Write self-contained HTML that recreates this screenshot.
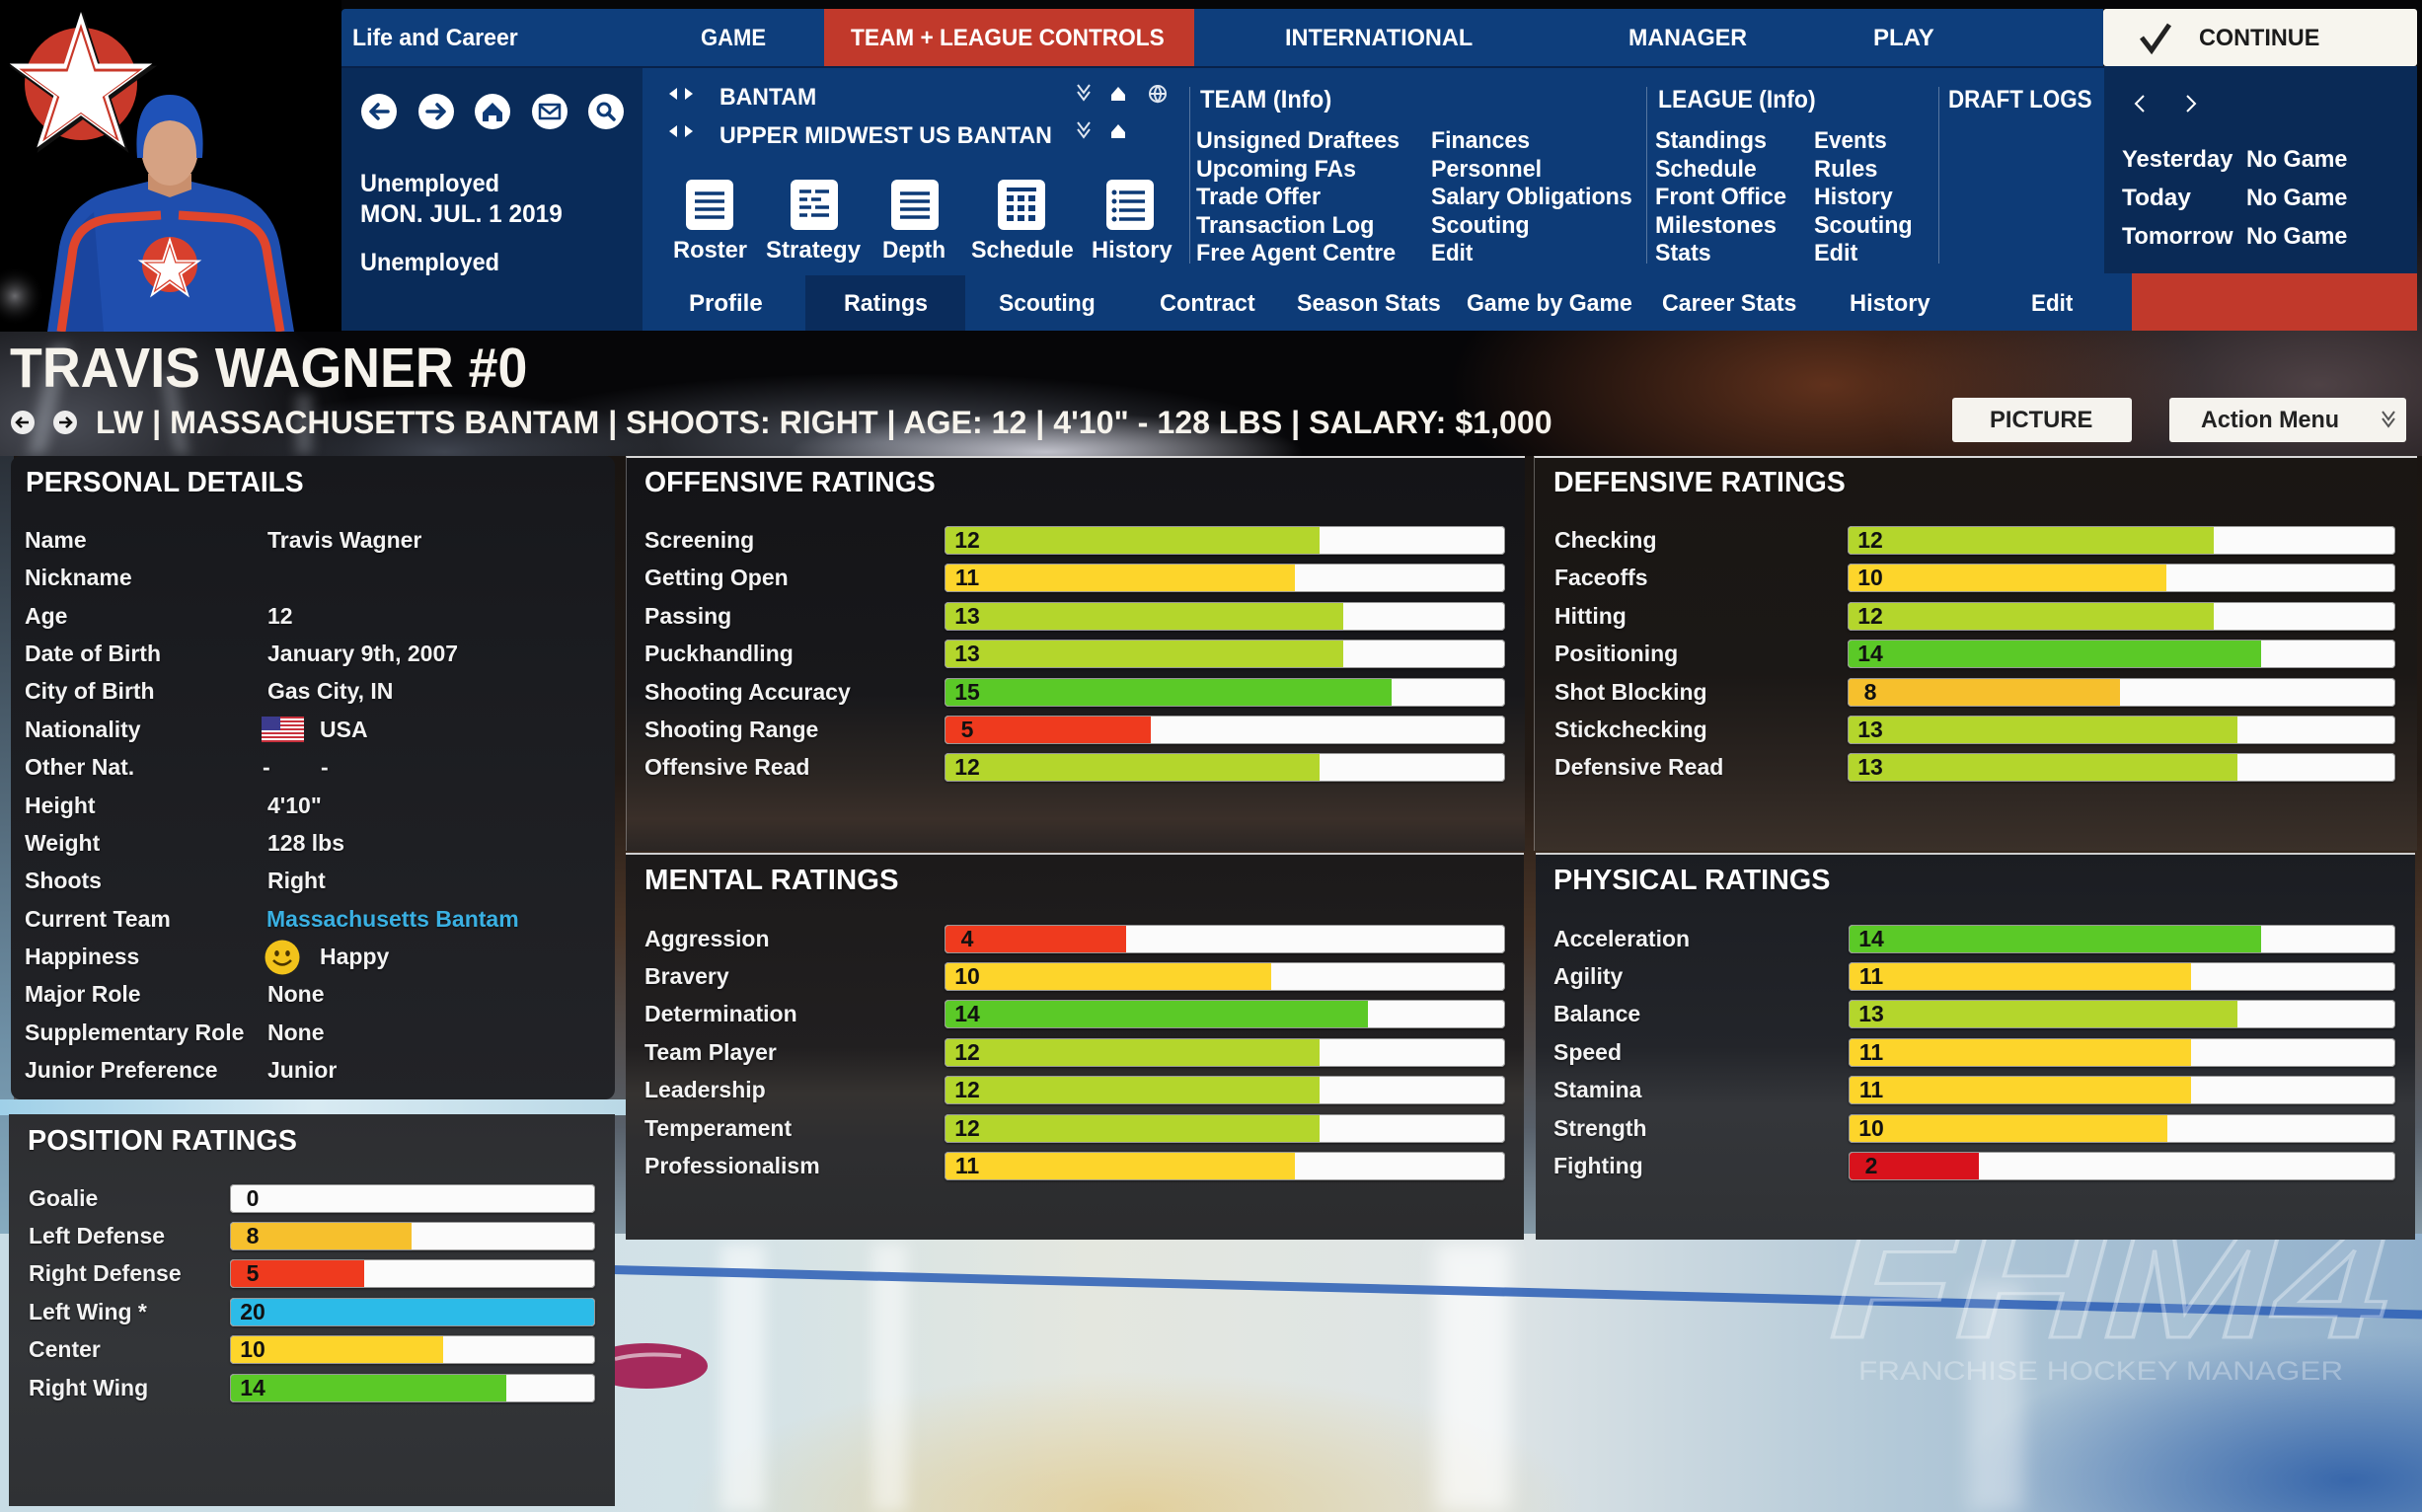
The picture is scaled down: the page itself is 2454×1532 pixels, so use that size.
<!DOCTYPE html>
<html><head><meta charset="utf-8"><style>
*{margin:0;padding:0;box-sizing:border-box}
body{width:2454px;height:1532px;overflow:hidden;background:#08080a}
#r{position:relative;width:2454px;height:1532px;overflow:hidden;background:#08080a}
.a{position:absolute}
.t{position:absolute;white-space:nowrap;line-height:1;font-family:"Liberation Sans",Arial,sans-serif;font-weight:bold;color:#fff;transform-origin:0 50%}
.c{transform:scaleX(.93)}
.l{font-size:23px;color:#f3f3f3;text-shadow:0 1px 2px rgba(0,0,0,.7)}
.h{font-size:29px;color:#fff;text-shadow:0 1px 2px rgba(0,0,0,.6)}
.n{font-size:24px}
.bar{position:absolute;height:29px;background:#fbfbfb;border-radius:4px;overflow:hidden;box-shadow:inset 0 0 0 1px rgba(140,140,140,.9),0 1px 2px rgba(0,0,0,.5)}
.bar i{position:absolute;left:1px;top:1px;bottom:1px;display:block;border-radius:3px 0 0 3px}
.bar b{position:absolute;left:0;top:0;width:46px;text-align:center;line-height:29px;font-size:23px;color:#111;font-family:"Liberation Sans",Arial,sans-serif}
.pn{position:absolute}
</style></head><body><div id="r">

<!-- header background -->
<div class="a" style="left:0;top:0;width:2454px;height:470px;background:
radial-gradient(ellipse 260px 40px at 1060px 458px,rgba(240,240,250,.75),rgba(240,240,250,0)),
radial-gradient(ellipse 420px 70px at 900px 448px,rgba(160,170,190,.45),rgba(160,170,190,0)),
radial-gradient(ellipse 380px 160px at 1850px 390px,rgba(170,85,45,.55),rgba(170,85,45,0)),
radial-gradient(ellipse 450px 200px at 2350px 390px,rgba(150,125,130,.5),rgba(150,125,130,0)),
radial-gradient(ellipse 300px 160px at 60px 430px,rgba(130,135,150,.55),rgba(130,135,150,0)),
radial-gradient(ellipse 220px 60px at 450px 458px,rgba(120,130,150,.5),rgba(0,0,0,0)),
#060608"></div>
<div class="a" style="left:40px;top:350px;width:18px;height:110px;background:rgba(200,205,215,.35);filter:blur(6px);transform:skewX(-12deg)"></div>
<div class="a" style="left:170px;top:380px;width:14px;height:80px;background:rgba(200,205,215,.3);filter:blur(6px);transform:skewX(10deg)"></div>
<div class="a" style="left:300px;top:400px;width:16px;height:60px;background:rgba(200,205,215,.3);filter:blur(6px)"></div>

<!-- arena background -->
<div class="a" style="left:0;top:462px;width:2454px;height:800px;background:linear-gradient(to bottom,#1a1512 0%,#221a15 40%,#4a3527 60%,#58606a 85%,#8aa0ae 100%)"></div>
<div class="a" style="left:0;top:462px;width:14px;height:1070px;background:linear-gradient(to bottom,#2a3038 0%,#6e8fa5 55%,#a9d3e6 100%)"></div>

<!-- ice -->
<div class="a" style="left:0;top:1250px;width:2454px;height:282px;background:
radial-gradient(ellipse 560px 210px at 2380px 250px,rgba(40,90,165,.85),rgba(40,90,165,0) 70%),
radial-gradient(ellipse 650px 200px at 1150px 280px,rgba(225,202,140,.8),rgba(225,202,140,0) 70%),
linear-gradient(to right,#c8dce5 0%,#d3e2e7 30%,#e4e7df 45%,#dde4e6 62%,#b3c9d8 78%,#90afcb 100%)"></div>
<div class="a" style="left:0;top:1114px;width:636px;height:16px;background:linear-gradient(to right,#9fd0e8,#d8eaf2 50%,#b9d8e6)"></div>
<div class="a" style="left:730px;top:1260px;width:45px;height:272px;background:rgba(255,255,255,.55);filter:blur(8px)"></div>
<div class="a" style="left:884px;top:1260px;width:35px;height:272px;background:rgba(255,255,255,.5);filter:blur(8px)"></div>
<div class="a" style="left:1455px;top:1260px;width:75px;height:272px;background:rgba(255,255,255,.65);filter:blur(10px)"></div>
<div class="a" style="left:1995px;top:1300px;width:55px;height:232px;background:rgba(255,255,255,.35);filter:blur(10px)"></div>
<svg class="a" style="left:0;top:0" width="2454" height="1532">
<line x1="600" y1="1286" x2="2454" y2="1332" stroke="#2b5eb6" stroke-width="9" opacity=".85"/>
<ellipse cx="655" cy="1384" rx="62" ry="23" fill="#a52a5c"/>
<path d="M623 1377 Q650 1370 690 1374" stroke="#e8d8e0" stroke-width="4" fill="none" opacity=".7"/>
</svg>
<div class="t" style="left:1853px;top:1228px;font-size:150px;font-style:italic;color:rgba(255,255,255,.1);-webkit-text-stroke:3px rgba(255,255,255,.35);--w:567px">FHM4</div>
<div class="t" style="left:1883px;top:1375.5px;font-size:27px;font-weight:normal;color:rgba(255,255,255,.3);--w:491px">FRANCHISE HOCKEY MANAGER</div>

<!-- portrait + logo -->
<svg class="a" style="left:0;top:0" width="346" height="336">
<defs><polygon id="st" points="0,-1 0.2245,-0.309 0.9511,-0.309 0.3633,0.118 0.5878,0.809 0,0.382 -0.5878,0.809 -0.3633,0.118 -0.9511,-0.309 -0.2245,-0.309"/>
<radialGradient id="sp" cx="0.5" cy="0.5" r="0.5"><stop offset="0" stop-color="#9a9aa0" stop-opacity=".7"/><stop offset="1" stop-color="#000" stop-opacity="0"/></radialGradient></defs>
<rect x="0" y="0" width="346" height="336" fill="#000"/>
<circle cx="15" cy="300" r="30" fill="url(#sp)"/>
<path d="M48 336 L60 250 Q68 206 112 193 L150 184 L172 200 L194 184 L232 193 Q276 206 284 250 L298 336 Z" fill="#1f4eae"/>
<path d="M60 336 L70 260 Q75 230 95 215 L105 336 Z" fill="#173f95" opacity=".6"/>
<path d="M62 336 L74 252 Q80 224 116 221 L163 218" stroke="#e0452c" stroke-width="9" fill="none"/>
<path d="M181 218 L228 221 Q264 224 270 252 L284 336" stroke="#e0452c" stroke-width="9" fill="none"/>
<path d="M150 176 L194 176 L194 192 L172 200 L150 192 Z" fill="#c98f6d"/>
<ellipse cx="172" cy="150" rx="29" ry="38" fill="#d6a283"/>
<path d="M139 160 Q134 96 172 96 Q210 96 205 160 L199 160 Q200 124 172 122 Q144 124 145 160 Z" fill="#1f52b8"/>
<circle cx="172" cy="268" r="28" fill="#d8402d"/>
<use href="#st" transform="translate(172 274) scale(34)" fill="#fff"/>
<use href="#st" transform="translate(172 274) scale(28)" fill="#d8402d"/>
<use href="#st" transform="translate(172 274) scale(24)" fill="#fff"/>
<circle cx="82" cy="85" r="57" fill="#c9392a"/>
<use href="#st" transform="translate(84 91) scale(79)" fill="#111"/>
<use href="#st" transform="translate(82 88) scale(76)" fill="#fff"/>
<use href="#st" transform="translate(82 90) scale(66)" fill="#c9392a"/>
<use href="#st" transform="translate(82 91) scale(60)" fill="#fff"/>
</svg>

<!-- NAV blocks -->
<div class="a" style="left:346px;top:9px;width:1785px;height:58px;background:#0e3e7c;border-radius:4px 0 0 0"></div>
<div class="a" style="left:835px;top:9px;width:375px;height:58px;background:#c1392b"></div>
<div class="a" style="left:2131px;top:9px;width:318px;height:58px;background:#f7f5ee;border-radius:3px"></div>
<div class="a" style="left:346px;top:67px;width:1814px;height:268px;background:#0d3b77;border-top:2px solid #08224a"></div>
<div class="a" style="left:346px;top:67px;width:305px;height:268px;background:#092b59;border-top:2px solid #08224a"></div>
<div class="a" style="left:816px;top:279px;width:162px;height:56px;background:#0a2c5c"></div>
<div class="a" style="left:2132px;top:67px;width:317px;height:210px;background:#0a2a56"></div>
<div class="a" style="left:2160px;top:277px;width:289px;height:58px;background:#c1392b"></div>
<div class="a" style="left:1205px;top:88px;width:1px;height:179px;background:rgba(255,255,255,.3)"></div>
<div class="a" style="left:1668px;top:88px;width:1px;height:179px;background:rgba(255,255,255,.3)"></div>
<div class="a" style="left:1964px;top:88px;width:1px;height:179px;background:rgba(255,255,255,.3)"></div>

<svg class="a" style="left:0;top:0" width="2454" height="470">
<g fill="#fff"><circle cx="384" cy="113" r="18"/><circle cx="442" cy="113" r="18"/><circle cx="499" cy="113" r="18"/><circle cx="557" cy="113" r="18"/><circle cx="614" cy="113" r="18"/></g>
<g stroke="#0d3a76" stroke-width="3.5" fill="none" stroke-linecap="round" stroke-linejoin="round">
<path d="M393 113 H376 M383 106 L376 113 L383 120"/>
<path d="M433 113 H450 M443 106 L450 113 L443 120"/>
<rect x="547" y="106" width="20" height="14" stroke-width="2.5"/><path d="M547 107 L557 115 L567 107" stroke-width="2.5"/>
<circle cx="612" cy="111" r="6" stroke-width="3"/><path d="M616 115 L622 121"/>
</g>
<path d="M489 114 L499 104 L509 114 V123 H503 V117 H495 V123 H489 Z" fill="#0d3a76"/>
<g fill="#fff"><path d="M686 89 L678 95 L686 101 Z"/><path d="M694 89 L702 95 L694 101 Z"/><path d="M686 127 L678 133 L686 139 Z"/><path d="M694 127 L702 133 L694 139 Z"/></g>
<g stroke="#dfe6f0" stroke-width="2" fill="none">
<path d="M1092 86 L1098 94 L1104 86 M1092 93 L1098 101 L1104 93"/>
<path d="M1092 124 L1098 132 L1104 124 M1092 131 L1098 139 L1104 131"/>
<circle cx="1173" cy="95" r="8"/><path d="M1165 95 H1181 M1173 87 Q1167 95 1173 103 Q1179 95 1173 87"/>
</g>
<g fill="#fff"><path d="M1126 96 L1133 88 L1140 96 V102 H1126 Z"/><path d="M1126 134 L1133 126 L1140 134 V140 H1126 Z"/></g>
<g fill="#fff"><rect x="695" y="182" width="48" height="51" rx="6"/><rect x="801" y="182" width="48" height="51" rx="6"/><rect x="903" y="182" width="48" height="51" rx="6"/><rect x="1011" y="182" width="48" height="51" rx="6"/><rect x="1121" y="182" width="48" height="51" rx="6"/></g>
<g stroke="#0d3a76" stroke-width="3.5">
<path d="M704 196 H734 M704 204 H734 M704 212 H734 M704 220 H734"/>
<path d="M810 194 H822 M826 194 H840 M810 202 H818 M822 202 H832 M810 210 H822 M826 210 H840 M810 218 H818 M822 218 H840"/>
<path d="M912 196 H942 M912 204 H942 M912 212 H942 M912 220 H942"/>
<path d="M1020 192 H1050" stroke-width="4"/>
<path d="M1134 195 H1160 M1134 204 H1160 M1134 213 H1160 M1134 222 H1160"/>
</g>
<g fill="#0d3a76"><rect x="1020" y="198" width="7" height="6"/><rect x="1031" y="198" width="7" height="6"/><rect x="1042" y="198" width="7" height="6"/><rect x="1020" y="208" width="7" height="6"/><rect x="1031" y="208" width="7" height="6"/><rect x="1042" y="208" width="7" height="6"/><rect x="1020" y="218" width="7" height="6"/><rect x="1031" y="218" width="7" height="6"/><rect x="1042" y="218" width="7" height="6"/>
<circle cx="1129" cy="195" r="2.5"/><circle cx="1129" cy="204" r="2.5"/><circle cx="1129" cy="213" r="2.5"/><circle cx="1129" cy="222" r="2.5"/></g>
<g stroke="#fff" stroke-width="2" fill="none"><path d="M2172 97 L2164 105 L2172 113"/><path d="M2216 97 L2224 105 L2216 113"/></g>
<path d="M2170 38 L2180 51 L2198 25" stroke="#222" stroke-width="5" fill="none"/>
<rect x="1978" y="403" width="182" height="45" rx="3" fill="#f5f3ee"/>
<rect x="2198" y="403" width="240" height="45" rx="3" fill="#f5f3ee"/>
<path d="M2414 417 L2420 425 L2426 417 M2414 424 L2420 432 L2426 424" stroke="#555" stroke-width="2" fill="none"/>
<circle cx="23" cy="428" r="12" fill="#eee"/><circle cx="66" cy="428" r="12" fill="#eee"/>
<path d="M29 428 H17 M22 423 L17 428 L22 433 M60 428 H72 M67 423 L72 428 L67 433" stroke="#111" stroke-width="2.5" fill="none"/>
</svg>

<!-- NAV text -->
<div class="t c n" style="left:357px;top:26.5px;--w:168px">Life and Career</div>
<div class="t c n" style="left:710px;top:26.5px;--w:66px">GAME</div>
<div class="t c n" style="left:862px;top:26.5px;--w:318px">TEAM + LEAGUE CONTROLS</div>
<div class="t c n" style="left:1302px;top:26.5px;--w:190px">INTERNATIONAL</div>
<div class="t c n" style="left:1650px;top:26.5px;--w:120px">MANAGER</div>
<div class="t c n" style="left:1898px;top:26.5px;--w:62px">PLAY</div>
<div class="t c n" style="left:2228px;top:26.5px;--w:122px;color:#1b1b1b">CONTINUE</div>

<div class="t c" style="left:365px;top:174px;font-size:25px;--w:141px">Unemployed</div>
<div class="t c" style="left:365px;top:204.5px;font-size:25px;--w:205px">MON. JUL. 1 2019</div>
<div class="t c" style="left:365px;top:253.5px;font-size:25px;--w:141px">Unemployed</div>

<div class="t c n" style="left:729px;top:86.5px;--w:98px">BANTAM</div>
<div class="t c n" style="left:729px;top:126px;--w:337px">UPPER MIDWEST US BANTAN</div>

<div class="t c n" style="left:682px;top:242px;--w:75px">Roster</div>
<div class="t c n" style="left:776px;top:242px;--w:96px">Strategy</div>
<div class="t c n" style="left:894px;top:242px;--w:64px">Depth</div>
<div class="t c n" style="left:984px;top:242px;--w:104px">Schedule</div>
<div class="t c n" style="left:1106px;top:242px;--w:82px">History</div>

<div class="t c" style="left:1216px;top:89px;font-size:25px;--w:133px">TEAM (Info)</div>
<div class="t c" style="left:1680px;top:89px;font-size:25px;--w:160px">LEAGUE (Info)</div>
<div class="t c" style="left:1974px;top:89px;font-size:25px;--w:146px">DRAFT LOGS</div>

<div class="t c n" style="left:1212px;top:131px;--w:206px">Unsigned Draftees</div>
<div class="t c n" style="left:1212px;top:159.5px;--w:162px">Upcoming FAs</div>
<div class="t c n" style="left:1212px;top:188px;--w:126px">Trade Offer</div>
<div class="t c n" style="left:1212px;top:216.5px;--w:180px">Transaction Log</div>
<div class="t c n" style="left:1212px;top:245px;--w:202px">Free Agent Centre</div>
<div class="t c n" style="left:1450px;top:131px;--w:100px">Finances</div>
<div class="t c n" style="left:1450px;top:159.5px;--w:112px">Personnel</div>
<div class="t c n" style="left:1450px;top:188px;--w:204px">Salary Obligations</div>
<div class="t c n" style="left:1450px;top:216.5px;--w:100px">Scouting</div>
<div class="t c n" style="left:1450px;top:245px;--w:42px">Edit</div>
<div class="t c n" style="left:1677px;top:131px;--w:113px">Standings</div>
<div class="t c n" style="left:1677px;top:159.5px;--w:103px">Schedule</div>
<div class="t c n" style="left:1677px;top:188px;--w:133px">Front Office</div>
<div class="t c n" style="left:1677px;top:216.5px;--w:123px">Milestones</div>
<div class="t c n" style="left:1677px;top:245px;--w:57px">Stats</div>
<div class="t c n" style="left:1838px;top:131px;--w:74px">Events</div>
<div class="t c n" style="left:1838px;top:159.5px;--w:64px">Rules</div>
<div class="t c n" style="left:1838px;top:188px;--w:80px">History</div>
<div class="t c n" style="left:1838px;top:216.5px;--w:100px">Scouting</div>
<div class="t c n" style="left:1838px;top:245px;--w:44px">Edit</div>

<div class="t c n" style="left:2150px;top:150px;--w:112px">Yesterday</div>
<div class="t c n" style="left:2276px;top:150px;--w:102px">No Game</div>
<div class="t c n" style="left:2150px;top:189px;--w:70px">Today</div>
<div class="t c n" style="left:2276px;top:189px;--w:102px">No Game</div>
<div class="t c n" style="left:2150px;top:227.5px;--w:113px">Tomorrow</div>
<div class="t c n" style="left:2276px;top:227.5px;--w:102px">No Game</div>

<div class="t c n" style="left:698px;top:296px;--w:75px">Profile</div>
<div class="t c n" style="left:855px;top:296px;--w:85px">Ratings</div>
<div class="t c n" style="left:1012px;top:296px;--w:98px">Scouting</div>
<div class="t c n" style="left:1175px;top:296px;--w:97px">Contract</div>
<div class="t c n" style="left:1314px;top:296px;--w:146px">Season Stats</div>
<div class="t c n" style="left:1486px;top:296px;--w:168px">Game by Game</div>
<div class="t c n" style="left:1684px;top:296px;--w:136px">Career Stats</div>
<div class="t c n" style="left:1874px;top:296px;--w:82px">History</div>
<div class="t c n" style="left:2058px;top:296px;--w:42px">Edit</div>

<!-- Header -->
<div class="t c" style="left:10px;top:345px;font-size:57px;color:#f6f3ec;--w:524px">TRAVIS WAGNER #0</div>
<div class="t c" style="left:97px;top:412.4px;font-size:32px;color:#f6f3ec;--w:1476px">LW | MASSACHUSETTS BANTAM | SHOOTS: RIGHT | AGE: 12 | 4'10&quot; - 128 LBS | SALARY: $1,000</div>
<div class="t c n" style="left:2016px;top:413.5px;color:#222;--w:104px">PICTURE</div>
<div class="t c n" style="left:2230px;top:413.5px;color:#222;--w:140px">Action Menu</div>

<!-- Panels -->
<div class="pn" style="left:11px;top:462px;width:612px;height:652px;border-radius:10px;background:linear-gradient(to bottom,#17181c,#1e1f23 60%,#222327)"></div>
<div class="pn" style="left:634px;top:462px;width:911px;height:400px;border-top:2px solid rgba(235,235,235,.9);border-left:1px solid rgba(255,255,255,.3);background:linear-gradient(to bottom,#141417 0%,#18181b 60%,#2a2522 80%,#3a2f29 92%,#2b2624 100%)"></div>
<div class="pn" style="left:1554px;top:462px;width:895px;height:400px;border-top:2px solid rgba(235,235,235,.9);border-left:1px solid rgba(255,255,255,.3);background:linear-gradient(to bottom,#1a1613 0%,#1b1816 55%,#2b2420 80%,#3a3029 100%)"></div>
<div class="pn" style="left:634px;top:864px;width:910px;height:392px;border-top:2px solid rgba(235,235,235,.85);background:linear-gradient(to bottom,#1c1a1a 0%,#211f20 50%,#353230 62%,#2e2e30 75%,#2b2c2e 100%)"></div>
<div class="pn" style="left:1556px;top:864px;width:891px;height:392px;border-top:2px solid rgba(235,235,235,.85);background:linear-gradient(to bottom,#1b1d22 0%,#23252a 50%,#34363a 65%,#303235 100%)"></div>
<div class="pn" style="left:9px;top:1129px;width:614px;height:397px;background:linear-gradient(to bottom,#2d2e31,#333538 60%,#2f3134)"></div>

<!-- Personal details -->
<div class="t h" style="left:26px;top:475px;--w:282px">PERSONAL DETAILS</div>
<div class="t l" style="left:25px;top:536px">Name</div><div class="t l" style="left:271px;top:536px">Travis Wagner</div>
<div class="t l" style="left:25px;top:574.4px">Nickname</div>
<div class="t l" style="left:25px;top:612.7px">Age</div><div class="t l" style="left:271px;top:612.7px">12</div>
<div class="t l" style="left:25px;top:651.1px">Date of Birth</div><div class="t l" style="left:271px;top:651.1px">January 9th, 2007</div>
<div class="t l" style="left:25px;top:689.4px">City of Birth</div><div class="t l" style="left:271px;top:689.4px">Gas City, IN</div>
<div class="t l" style="left:25px;top:727.8px">Nationality</div><div class="t l" style="left:324px;top:727.8px">USA</div>
<div class="t l" style="left:25px;top:766.2px">Other Nat.</div><div class="t l" style="left:266px;top:766.2px">-</div><div class="t l" style="left:325px;top:766.2px">-</div>
<div class="t l" style="left:25px;top:804.5px">Height</div><div class="t l" style="left:271px;top:804.5px">4'10&quot;</div>
<div class="t l" style="left:25px;top:842.9px">Weight</div><div class="t l" style="left:271px;top:842.9px">128 lbs</div>
<div class="t l" style="left:25px;top:881.2px">Shoots</div><div class="t l" style="left:271px;top:881.2px">Right</div>
<div class="t l" style="left:25px;top:919.6px">Current Team</div><div class="t l" style="left:270px;top:919.6px;color:#3ab0e2">Massachusetts Bantam</div>
<div class="t l" style="left:25px;top:958px">Happiness</div><div class="t l" style="left:324px;top:958px">Happy</div>
<div class="t l" style="left:25px;top:996.3px">Major Role</div><div class="t l" style="left:271px;top:996.3px">None</div>
<div class="t l" style="left:25px;top:1034.7px">Supplementary Role</div><div class="t l" style="left:271px;top:1034.7px">None</div>
<div class="t l" style="left:25px;top:1073px">Junior Preference</div><div class="t l" style="left:271px;top:1073px">Junior</div>
<svg class="a" style="left:265px;top:726px" width="43" height="26" viewBox="0 0 43 26">
<rect width="43" height="26" fill="#fff"/>
<g fill="#c8303c"><rect y="0" width="43" height="2"/><rect y="4" width="43" height="2"/><rect y="8" width="43" height="2"/><rect y="12" width="43" height="2"/><rect y="16" width="43" height="2"/><rect y="20" width="43" height="2"/><rect y="24" width="43" height="2"/></g>
<rect width="19" height="14" fill="#3c3b8e"/></svg>
<svg class="a" style="left:268px;top:952px" width="36" height="36" viewBox="0 0 36 36">
<circle cx="18" cy="18" r="17.5" fill="#f2c31b"/><ellipse cx="12.5" cy="14" rx="2.3" ry="3" fill="#4a3500"/><ellipse cx="23.5" cy="14" rx="2.3" ry="3" fill="#4a3500"/>
<path d="M9 21 Q18 30 27 21" stroke="#4a3500" stroke-width="2.5" fill="none"/></svg>

<!-- Offensive -->
<div class="t h" style="left:653px;top:475px;--w:295px">OFFENSIVE RATINGS</div>
<div class="t l" style="left:653px;top:536px">Screening</div>
<div class="t l" style="left:653px;top:574.4px">Getting Open</div>
<div class="t l" style="left:653px;top:612.8px">Passing</div>
<div class="t l" style="left:653px;top:651.2px">Puckhandling</div>
<div class="t l" style="left:653px;top:689.6px">Shooting Accuracy</div>
<div class="t l" style="left:653px;top:728px">Shooting Range</div>
<div class="t l" style="left:653px;top:766.4px">Offensive Read</div>
<div class="bar" style="left:957px;top:533px;width:568px"><i style="width:66.7%;background:#b4d62c"></i><b>12</b></div>
<div class="bar" style="left:957px;top:571.4px;width:568px"><i style="width:62.4%;background:#fdd52b"></i><b>11</b></div>
<div class="bar" style="left:957px;top:609.8px;width:568px"><i style="width:71%;background:#b4d62c"></i><b>13</b></div>
<div class="bar" style="left:957px;top:648.2px;width:568px"><i style="width:71%;background:#b4d62c"></i><b>13</b></div>
<div class="bar" style="left:957px;top:686.6px;width:568px"><i style="width:79.6%;background:#5bc927"></i><b>15</b></div>
<div class="bar" style="left:957px;top:725px;width:568px"><i style="width:36.6%;background:#ef3a1e"></i><b>5</b></div>
<div class="bar" style="left:957px;top:763.4px;width:568px"><i style="width:66.7%;background:#b4d62c"></i><b>12</b></div>

<!-- Defensive -->
<div class="t h" style="left:1574px;top:475px;--w:296px">DEFENSIVE RATINGS</div>
<div class="t l" style="left:1575px;top:536px">Checking</div>
<div class="t l" style="left:1575px;top:574.4px">Faceoffs</div>
<div class="t l" style="left:1575px;top:612.8px">Hitting</div>
<div class="t l" style="left:1575px;top:651.2px">Positioning</div>
<div class="t l" style="left:1575px;top:689.6px">Shot Blocking</div>
<div class="t l" style="left:1575px;top:728px">Stickchecking</div>
<div class="t l" style="left:1575px;top:766.4px">Defensive Read</div>
<div class="bar" style="left:1872px;top:533px;width:555px"><i style="width:66.7%;background:#b4d62c"></i><b>12</b></div>
<div class="bar" style="left:1872px;top:571.4px;width:555px"><i style="width:58.1%;background:#fdd52b"></i><b>10</b></div>
<div class="bar" style="left:1872px;top:609.8px;width:555px"><i style="width:66.7%;background:#b4d62c"></i><b>12</b></div>
<div class="bar" style="left:1872px;top:648.2px;width:555px"><i style="width:75.3%;background:#5bc927"></i><b>14</b></div>
<div class="bar" style="left:1872px;top:686.6px;width:555px"><i style="width:49.5%;background:#f6c02d"></i><b>8</b></div>
<div class="bar" style="left:1872px;top:725px;width:555px"><i style="width:71%;background:#b4d62c"></i><b>13</b></div>
<div class="bar" style="left:1872px;top:763.4px;width:555px"><i style="width:71%;background:#b4d62c"></i><b>13</b></div>

<!-- Mental -->
<div class="t h" style="left:653px;top:878px;--w:258px">MENTAL RATINGS</div>
<div class="t l" style="left:653px;top:939.5px">Aggression</div>
<div class="t l" style="left:653px;top:977.9px">Bravery</div>
<div class="t l" style="left:653px;top:1016.3px">Determination</div>
<div class="t l" style="left:653px;top:1054.7px">Team Player</div>
<div class="t l" style="left:653px;top:1093.1px">Leadership</div>
<div class="t l" style="left:653px;top:1131.5px">Temperament</div>
<div class="t l" style="left:653px;top:1169.9px">Professionalism</div>
<div class="bar" style="left:957px;top:936.5px;width:568px"><i style="width:32.3%;background:#ef3a1e"></i><b>4</b></div>
<div class="bar" style="left:957px;top:974.9px;width:568px"><i style="width:58.1%;background:#fdd52b"></i><b>10</b></div>
<div class="bar" style="left:957px;top:1013.3px;width:568px"><i style="width:75.3%;background:#5bc927"></i><b>14</b></div>
<div class="bar" style="left:957px;top:1051.7px;width:568px"><i style="width:66.7%;background:#b4d62c"></i><b>12</b></div>
<div class="bar" style="left:957px;top:1090.1px;width:568px"><i style="width:66.7%;background:#b4d62c"></i><b>12</b></div>
<div class="bar" style="left:957px;top:1128.5px;width:568px"><i style="width:66.7%;background:#b4d62c"></i><b>12</b></div>
<div class="bar" style="left:957px;top:1166.9px;width:568px"><i style="width:62.4%;background:#fdd52b"></i><b>11</b></div>

<!-- Physical -->
<div class="t h" style="left:1574px;top:878px;--w:281px">PHYSICAL RATINGS</div>
<div class="t l" style="left:1574px;top:939.5px">Acceleration</div>
<div class="t l" style="left:1574px;top:977.9px">Agility</div>
<div class="t l" style="left:1574px;top:1016.3px">Balance</div>
<div class="t l" style="left:1574px;top:1054.7px">Speed</div>
<div class="t l" style="left:1574px;top:1093.1px">Stamina</div>
<div class="t l" style="left:1574px;top:1131.5px">Strength</div>
<div class="t l" style="left:1574px;top:1169.9px">Fighting</div>
<div class="bar" style="left:1873px;top:936.5px;width:554px"><i style="width:75.3%;background:#5bc927"></i><b>14</b></div>
<div class="bar" style="left:1873px;top:974.9px;width:554px"><i style="width:62.4%;background:#fdd52b"></i><b>11</b></div>
<div class="bar" style="left:1873px;top:1013.3px;width:554px"><i style="width:71%;background:#b4d62c"></i><b>13</b></div>
<div class="bar" style="left:1873px;top:1051.7px;width:554px"><i style="width:62.4%;background:#fdd52b"></i><b>11</b></div>
<div class="bar" style="left:1873px;top:1090.1px;width:554px"><i style="width:62.4%;background:#fdd52b"></i><b>11</b></div>
<div class="bar" style="left:1873px;top:1128.5px;width:554px"><i style="width:58.1%;background:#fdd52b"></i><b>10</b></div>
<div class="bar" style="left:1873px;top:1166.9px;width:554px"><i style="width:23.7%;background:#d8121c"></i><b>2</b></div>

<!-- Position -->
<div class="t h" style="left:28px;top:1142px;--w:273px">POSITION RATINGS</div>
<div class="t l" style="left:29px;top:1202.5px">Goalie</div>
<div class="t l" style="left:29px;top:1240.9px">Left Defense</div>
<div class="t l" style="left:29px;top:1279.3px">Right Defense</div>
<div class="t l" style="left:29px;top:1317.7px">Left Wing *</div>
<div class="t l" style="left:29px;top:1356.1px">Center</div>
<div class="t l" style="left:29px;top:1394.5px">Right Wing</div>
<div class="bar" style="left:233px;top:1199.5px;width:370px"><b>0</b></div>
<div class="bar" style="left:233px;top:1237.9px;width:370px"><i style="width:49.5%;background:#f6c02d"></i><b>8</b></div>
<div class="bar" style="left:233px;top:1276.3px;width:370px"><i style="width:36.6%;background:#ef3a1e"></i><b>5</b></div>
<div class="bar" style="left:233px;top:1314.7px;width:370px"><i style="width:calc(100% - 2px);background:#2cbbe8;border-radius:3px"></i><b>20</b></div>
<div class="bar" style="left:233px;top:1353.1px;width:370px"><i style="width:58.1%;background:#fdd52b"></i><b>10</b></div>
<div class="bar" style="left:233px;top:1391.5px;width:370px"><i style="width:75.3%;background:#5bc927"></i><b>14</b></div>

<script>
(function(){var els=document.querySelectorAll('.t');for(var i=0;i<els.length;i++){var e=els[i];var v=e.style.getPropertyValue('--w');if(!v)continue;var w=parseFloat(v);var n=e.offsetWidth;if(!w||!n)continue;var s=Math.max(0.6,Math.min(1.5,w/n));e.style.transform='scaleX('+s+')';}})();
</script>
</div></body></html>
